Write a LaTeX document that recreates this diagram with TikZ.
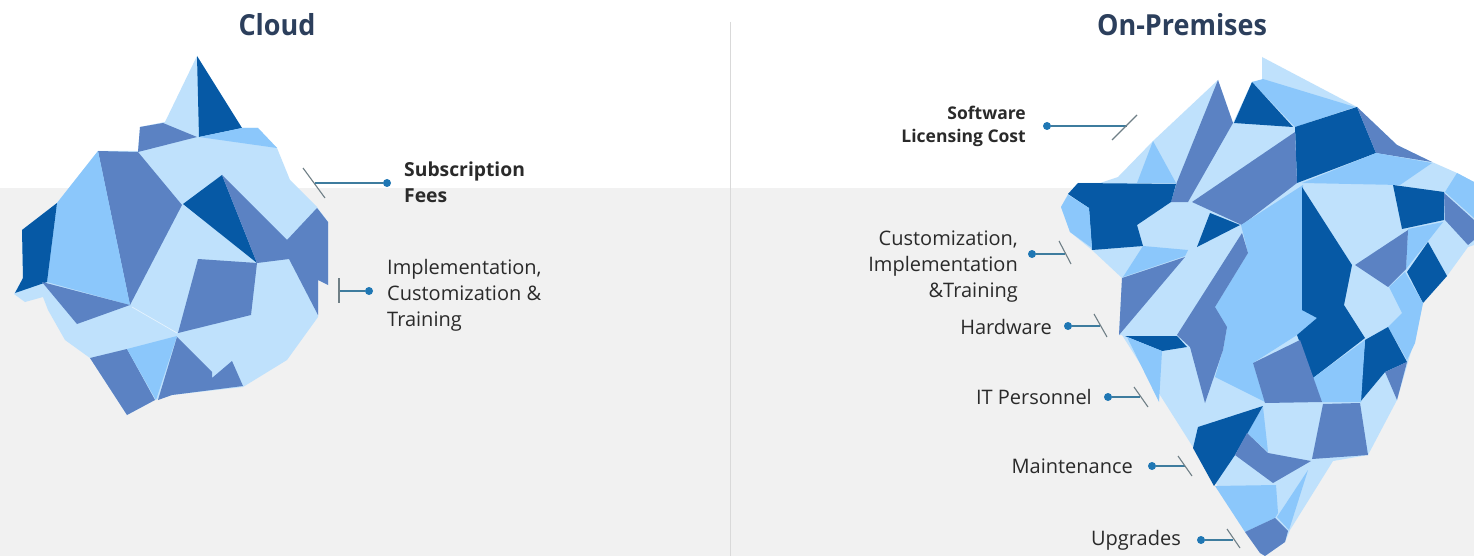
\documentclass[tikz,border=0pt]{standalone}
\usepackage{fontspec}
\setmainfont{Open Sans}
\definecolor{dk}{HTML}{0659A5}
\definecolor{md}{HTML}{5B82C3}
\definecolor{lt}{HTML}{8BC7FB}
\definecolor{pl}{HTML}{BFE1FC}
\definecolor{navy}{HTML}{2C3F5C}
\definecolor{ink}{HTML}{2A2A2A}
\definecolor{lead}{HTML}{3E7C9E}
\definecolor{tickc}{HTML}{6F7F86}
\definecolor{dotc}{HTML}{1F77B4}
\newcommand{\callout}[5]{%
  \node[dotn] (d#1) at (#2) {};
  \coordinate (m#1) at (#3);
  \coordinate (a#1) at (#4);
  \coordinate (b#1) at (#5);
  \draw[leadline] (d#1) -- (m#1);
  \draw[tickline] (a#1) -- (b#1);
}
\tikzset{
  dotn/.style={circle,fill=dotc,minimum size=8pt,inner sep=0pt},
  leadline/.style={draw=lead,line width=1.1pt},
  tickline/.style={draw=tickc,line width=1.1pt},
  title/.style={font=\fontsize{29}{32}\selectfont\bfseries,text=navy,inner sep=0pt,anchor=center,xscale=.93},
  lab/.style={font=\fontsize{20}{26}\selectfont,text=ink,inner sep=0pt,align=left,anchor=west},
  labr/.style={lab,align=right,anchor=east},
  bl/.style={font=\fontsize{19.3}{26}\selectfont\bfseries,text=ink,inner sep=0pt,align=left,anchor=west},
  bs/.style={font=\fontsize{17.5}{23}\selectfont\bfseries,text=ink,inner sep=0pt,align=right,anchor=east}
}
\begin{document}
\begin{tikzpicture}[x=1pt,y=-1pt]
\useasboundingbox (0,0) rectangle (1474,556);
\fill[white] (0,0) rectangle (1474,188);
\fill[black!5.5] (0,188) rectangle (1474,556);
\draw[black!15,line width=.8pt] (730,22) -- (730,556);

% ---------- Cloud iceberg
\fill[pl] (197,56)--(165,122)--(140,127)--(138,151)--(98,151)--(57,203)--(22,230)--(23,278)--(14,294)--(25,302)--(43,297)--(48,310)--(65,340)--(90,358)--(127,415)--(155,400)--(172,395)--(243,387)--(287,360)--(318,317)--(318,280)--(328,285)--(328,222)--(317,207)--(290,180)--(277,148)--(258,128)--(242,128)--cycle;
\fill[dk] (197,56)--(242,128)--(199,137)--cycle;
\fill[lt] (199,137)--(242,128)--(258,128)--(277,148)--cycle;
\fill[md] (140,127)--(163,123)--(197,137)--(138,152)--cycle;
\fill[md] (98,151)--(138,152)--(182,205)--(130,305)--cycle;
\fill[lt] (98,151)--(130,305)--(47,282)--(57,203)--cycle;
\fill[dk] (57,203)--(47,282)--(15,293)--(23,278)--(22,230)--cycle;
\fill[md] (42,282)--(130,305)--(77,324)--cycle;
\fill[dk] (222,175)--(183,204)--(257,263)--cycle;
\fill[md] (222,175)--(257,263)--(289,259)--(318,315)--(318,280)--(328,285)--(328,222)--(317,208)--(287,240)--(277,230)--cycle;
\fill[md] (198,259)--(257,263)--(251,315)--(178,333)--cycle;
\fill[md] (90,358)--(127,349)--(155,400)--(127,415)--cycle;
\fill[lt] (127,349)--(177,336)--(156,400)--cycle;
\fill[md] (177,337)--(212,372)--(212,378)--(232,361)--(243,386)--(172,395)--(158,400)--cycle;
\draw[white!60!pl,line width=.7pt] (132,307)--(177,333);

% ---------- On-Premises iceberg
\fill[pl] (1262,57)--(1357,107)--(1397,145)--(1432,162)--(1457,173)--(1474,182)--(1474,245)--(1468,247)--(1447,276)--(1423,303)--(1413,345)--(1397,400)--(1368,455)--(1333,461)--(1290,530)--(1285,542)--(1265,556)--(1260,553)--(1122,335)--(1119,335)--(1122,278)--(1092,250)--(1070,232)--(1061,207)--(1068,194)--(1078,183)--(1100,183)--(1118,177)--(1153,141)--(1218,80)--(1233,123)--(1252,82)--(1262,80)--cycle;
\fill[lt] (1252,82)--(1263,79)--(1355,107)--(1295,127)--cycle;
\fill[dk] (1252,82)--(1234,123)--(1293,127)--cycle;
\fill[dk] (1295,127)--(1357,107)--(1376,153)--(1297,183)--cycle;
\fill[md] (1357,107)--(1397,145)--(1432,162)--(1376,153)--cycle;
\fill[md] (1218,80)--(1233,123)--(1188,202)--(1171,202)--(1177,182)--cycle;
\fill[lt] (1153,141)--(1137,183)--(1176,183)--cycle;
\fill[md] (1295,132)--(1297,183)--(1242,225)--(1192,202)--cycle;
\fill[lt] (1302,183)--(1376,153)--(1432,163)--(1400,185)--cycle;
\fill[lt] (1457,173)--(1474,182)--(1474,218)--(1445,192)--cycle;
\fill[dk] (1078,183)--(1176,184)--(1171,202)--(1137,225)--(1143,246)--(1092,250)--(1089,208)--(1068,194)--cycle;
\fill[lt] (1068,195)--(1089,208)--(1092,248)--(1070,232)--(1061,207)--cycle;
\fill[dk] (1210,213)--(1240,225)--(1197,247)--cycle;
\fill[lt] (1143,246)--(1188,250)--(1185,256)--(1123,277)--cycle;
\fill[md] (1185,257)--(1122,278)--(1119,335)--cycle;
\fill[lt] (1303,185)--(1241,225)--(1248,253)--(1215,307)--(1227,327)--(1223,350)--(1215,377)--(1265,402)--(1253,363)--(1297,335)--(1317,318)--(1303,310)--cycle;
\fill[md] (1242,233)--(1248,253)--(1215,307)--(1227,327)--(1223,350)--(1205,403)--(1190,347)--(1177,335)--cycle;
\fill[dk] (1125,336)--(1177,336)--(1187,347)--(1162,351)--cycle;
\fill[dk] (1302,187)--(1352,265)--(1344,305)--(1365,338)--(1313,378)--(1297,335)--(1317,318)--(1302,310)--cycle;
\fill[dk] (1393,185)--(1444,192)--(1444,220)--(1402,229)--cycle;
\fill[md] (1444,193)--(1474,220)--(1474,240)--(1468,245)--(1445,220)--cycle;
\fill[lt] (1408,229)--(1443,222)--(1406,269)--cycle;
\fill[dk] (1428,242)--(1447,276)--(1423,303)--(1407,272)--cycle;
\fill[md] (1355,265)--(1408,230)--(1406,269)--(1388,287)--cycle;
\fill[lt] (1405,272)--(1423,303)--(1415,343)--(1407,360)--(1388,327)--(1402,313)--(1389,287)--cycle;
\fill[dk] (1388,327)--(1407,362)--(1385,372)--(1360,402)--(1365,340)--cycle;
\fill[lt] (1365,340)--(1361,402)--(1322,402)--(1313,378)--cycle;
\fill[md] (1253,363)--(1300,340)--(1322,402)--(1265,403)--cycle;
\fill[md] (1385,372)--(1407,362)--(1397,400)--cycle;
\fill[md] (1323,404)--(1360,403)--(1368,455)--(1312,459)--cycle;
\fill[lt] (1127,337)--(1162,351)--(1159,402)--cycle;
\fill[lt] (1263,407)--(1268,452)--(1247,433)--cycle;
\fill[dk] (1263,406)--(1198,427)--(1193,448)--(1214,486)--(1235,455)--cycle;
\fill[md] (1247,433)--(1268,453)--(1311,461)--(1273,483)--(1235,455)--cycle;
\fill[lt] (1215,486)--(1276,485)--(1278,513)--(1275,518)--(1245,532)--cycle;
\fill[lt] (1308,470)--(1289,530)--(1277,517)--cycle;
\fill[md] (1245,532)--(1275,518)--(1288,531)--(1285,542)--(1265,556)--(1260,553)--cycle;

% ---------- Titles
\node[title] (t1) at (277,25) {Cloud};
\node[title] (t2) at (1182,25) {On-Premises};

% ---------- Callouts
\callout{A}{387,183}{315,183}{303,168}{325,198}
\callout{B}{369,291}{339,291}{339,278}{339,303}
\callout{C}{1047,126}{1127,126}{1137,115}{1112,140}
\callout{D}{1032,254}{1065,254}{1059,241}{1071,264}
\callout{E}{1068,326}{1100,326}{1094,314}{1107,337}
\callout{F}{1108,397}{1140,397}{1134,387}{1148,407}
\callout{G}{1152,466}{1185,466}{1178,456}{1192,476}
\callout{H}{1201,540}{1233,540}{1227,529}{1240,548}

\node[bl] (lA) at (404,182) {Subscription\\Fees};
\node[lab] (lB) at (387,295) {Implementation,\\Customization \&\\Training};
\node[bs] (lC) at (1026,126) {Software\\Licensing Cost};
\node[labr] (lD) at (1018,267) {Customization,\\Implementation\\\&Training};
\node[labr] (lE) at (1052,327) {Hardware};
\node[labr] (lF) at (1092,397) {IT Personnel};
\node[labr] (lG) at (1133,466) {Maintenance};
\node[labr] (lH) at (1181,540) {Upgrades};
\end{tikzpicture}
\end{document}
